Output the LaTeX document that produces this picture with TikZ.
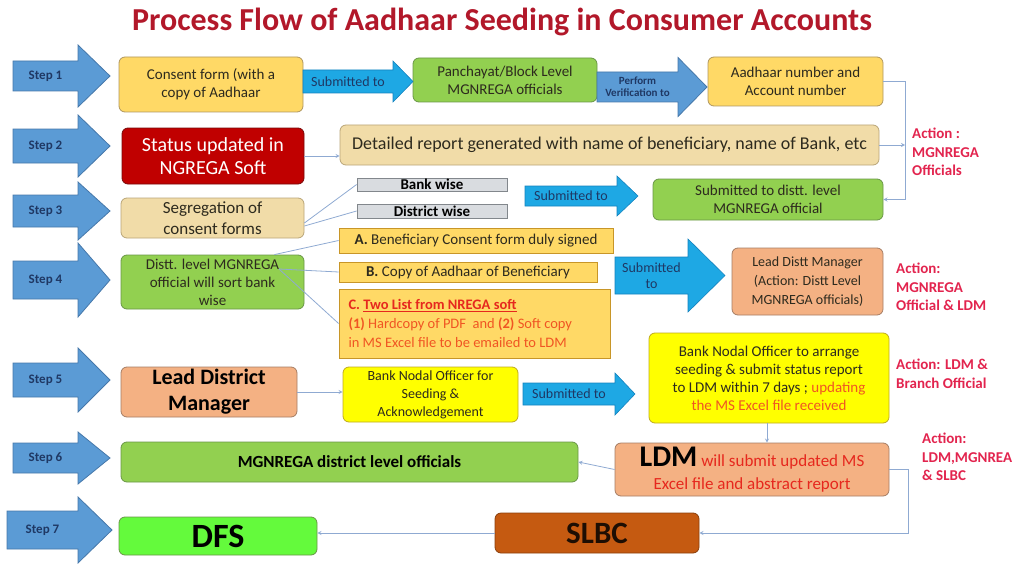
\documentclass[tikz,border=0pt]{standalone}
\usepackage{fontspec}
\setmainfont{Carlito}
\usepackage{tikz}
\usetikzlibrary{arrows,calc}
\definecolor{titlered}{RGB}{178,24,42}
\definecolor{stepblue}{RGB}{91,155,213}
\definecolor{stepline}{RGB}{70,120,170}
\definecolor{navy}{RGB}{31,56,100}
\definecolor{skyblue}{RGB}{30,168,228}
\definecolor{skyline}{RGB}{20,130,190}
\definecolor{gold}{RGB}{255,217,102}
\definecolor{goldline}{RGB}{175,150,95}
\definecolor{listline}{RGB}{200,150,40}
\definecolor{leaf}{RGB}{146,208,80}
\definecolor{leafline}{RGB}{105,150,70}
\definecolor{parch}{RGB}{241,220,168}
\definecolor{parchline}{RGB}{185,165,120}
\definecolor{status}{RGB}{192,0,0}
\definecolor{statusline}{RGB}{120,10,10}
\definecolor{salmon}{RGB}{244,177,131}
\definecolor{salmonline}{RGB}{165,125,100}
\definecolor{brightyellow}{RGB}{255,255,0}
\definecolor{yellowline}{RGB}{190,170,30}
\definecolor{graybg}{RGB}{217,220,224}
\definecolor{grayline}{RGB}{130,135,140}
\definecolor{dfsgreen}{RGB}{100,250,60}
\definecolor{slbcorange}{RGB}{197,90,17}
\definecolor{boxtext}{RGB}{45,42,30}
\definecolor{connblue}{RGB}{143,170,210}
\definecolor{actionred}{RGB}{226,36,78}
\definecolor{listred}{RGB}{230,40,30}
\definecolor{listorange}{RGB}{240,85,35}
\tikzstyle{box}=[rounded corners=6pt, inner sep=0pt, align=center, line width=0.8pt, text=boxtext, font=\fontsize{15}{18}\selectfont]
\tikzstyle{goldbox}=[box, fill=gold, draw=goldline]
\tikzstyle{greenbox}=[box, fill=leaf, draw=leafline]
\tikzstyle{parchbox}=[box, fill=parch, draw=parchline]
\tikzstyle{redbox}=[box, fill=status, draw=statusline, text=white, font=\fontsize{20}{23}\selectfont]
\tikzstyle{salmonbox}=[box, fill=salmon, draw=salmonline]
\tikzstyle{yellowbox}=[box, fill=brightyellow, draw=yellowline]
\tikzstyle{graybox}=[box, rounded corners=0pt, fill=graybg, draw=grayline, text=black, font=\fontsize{15}{18}\selectfont\bfseries]
\tikzstyle{listbox}=[box, rounded corners=0pt, fill=gold, draw=listline]
\tikzstyle{bigtext}=[text=black, font=\fontsize{22}{26}\selectfont\bfseries]
\tikzstyle{steparrow}=[fill=stepblue, draw=stepline, line width=0.8pt, text=navy, font=\fontsize{13}{15}\selectfont\bfseries]
\tikzstyle{subarrow}=[fill=skyblue, draw=skyline, line width=0.6pt, text=navy, font=\fontsize{14}{16}\selectfont]
\tikzstyle{verarrow}=[steparrow, font=\fontsize{11}{12}\selectfont\bfseries]
\tikzstyle{conn}=[draw=connblue, line width=0.8pt]
\tikzstyle{action}=[anchor=west, align=left, inner sep=0pt, text=actionred, font=\fontsize{15}{18.5}\selectfont\bfseries]
% block arrow: name, x left, x head, x tip, y, body half, head half, style, text
\newcommand{\blockarrow}[9]{
 \draw[#8] ({#2},{#5-#6}) -- ({#3},{#5-#6}) -- ({#3},{#5-#7}) -- ({#4},{#5}) -- ({#3},{#5+#7}) -- ({#3},{#5+#6}) -- ({#2},{#5+#6}) -- cycle;
 \node[#8, draw=none, fill=none, align=center, inner sep=0pt] (#1) at ({(#2+#3)/2},{#5}) {#9};
}
% box between two corners
\newcommand{\pbox}[7]{
 \node[#1, minimum width={(#5-#3)*1pt}, minimum height={(#6-#4)*1pt}] (#2) at ({(#3+#5)/2},{(#4+#6)/2}) {#7};
}

\begin{document}
\begin{tikzpicture}[x=1pt,y=-1pt]
 \useasboundingbox (0,0) rectangle (1019,567);
 \node[text=titlered, font=\fontsize{32}{34}\selectfont\bfseries] (title) at (502,22) {Process Flow of Aadhaar Seeding in Consumer Accounts};
%
 \blockarrow{step1}{13}{78}{110}{76}{15}{31}{steparrow}{Step 1}
 \blockarrow{step2}{13}{78}{110}{146}{17}{31}{steparrow}{Step 2}
 \blockarrow{step3}{13}{78}{110}{211}{16}{29}{steparrow}{Step 3}
 \blockarrow{step4}{13}{78}{110}{280}{19}{37}{steparrow}{Step 4}
 \blockarrow{step5}{13}{78}{110}{380}{17}{32}{steparrow}{Step 5}
 \blockarrow{step6}{13}{78}{110}{458}{15}{26}{steparrow}{Step 6}
 \blockarrow{step7}{7}{78}{112}{530}{19}{33}{steparrow}{Step 7}
%
 \pbox{goldbox}{consent}{119}{57}{303}{112}{Consent form (with a\\copy of Aadhaar}
 \pbox{greenbox}{panch}{413}{58}{597}{102}{Panchayat/Block Level\\MGNREGA officials}
 \pbox{goldbox}{aadhaar}{708}{57}{883}{106}{Aadhaar number and\\Account number}
 \blockarrow{sub1}{303}{393}{413}{81.5}{11.5}{20.5}{subarrow}{Submitted to}
 \blockarrow{verify}{597}{678}{707}{87}{15}{29.5}{verarrow}{Perform\\Verification to}
%
 \pbox{redbox}{status}{122}{128}{304}{184}{Status updated in\\NGREGA Soft}
 \pbox{parchbox, font=\fontsize{18}{20}\selectfont}{report}{340}{125}{879}{165}{Detailed report generated with name of beneficiary, name of Bank, etc}
%
 \pbox{parchbox, font=\fontsize{17}{21}\selectfont}{segr}{121}{198}{304}{238}{Segregation of\\consent forms}
 \pbox{graybox}{bank}{357}{178}{507}{191}{Bank wise}
 \pbox{graybox}{district}{357}{204}{507}{218}{District wise}
 \blockarrow{sub3}{525}{617}{638}{196}{10}{20}{subarrow}{Submitted to}
 \pbox{greenbox}{subdist}{653}{179}{883}{220}{Submitted to distt. level\\MGNREGA official}
%
 \pbox{greenbox}{distt}{121}{255}{304}{309}{Distt. level MGNREGA\\official will sort bank\\wise}
 \pbox{listbox}{lista}{339}{228}{613}{253}{\textbf{A.} Beneficiary Consent form duly signed}
 \pbox{listbox}{listb}{339}{262}{597}{282}{\textbf{B.} Copy of Aadhaar of Beneficiary}
 \pbox{listbox}{listc}{339}{289}{610}{358}{\parbox{252pt}{\raggedright\fontsize{14.5}{19}\selectfont
  {\color{listred}\bfseries C. \underline{Two List from NREGA soft}}\\
  {\color{listorange}\textbf{(1)} Hardcopy of PDF\ \ and \textbf{(2)} Soft copy}\\
  {\color{listorange}in MS Excel file to be emailed to LDM}}}
 \blockarrow{sub4}{615}{688}{725}{275.5}{18.5}{36.5}{subarrow}{Submitted\\to}
 \pbox{salmonbox, font=\fontsize{14}{19}\selectfont}{leaddistt}{732}{248}{883}{315}{Lead Distt Manager\\(Action: Distt Level\\MGNREGA officials)}
%
 \pbox{salmonbox, bigtext}{ldmain}{121}{367}{297}{417}{Lead District\\Manager}
 \pbox{yellowbox, font=\fontsize{14}{18}\selectfont}{nodal}{343}{367}{518}{422}{Bank Nodal Officer for\\Seeding \&\\Acknowledgement}
 \blockarrow{sub5}{523}{615}{635}{394}{11}{21}{subarrow}{Submitted to}
 \pbox{yellowbox}{arrange}{649}{333}{889}{423}{Bank Nodal Officer to arrange\\seeding \& submit status report\\to LDM within 7 days ; {\color{listorange}updating}\\{\color{listorange}the MS Excel file received}}
%
 \pbox{greenbox, bigtext, font=\fontsize{17}{20}\selectfont\bfseries}{mgnrega}{121}{442}{578}{482}{MGNREGA district level officials}
 \pbox{salmonbox, text=listred, font=\fontsize{17}{20}\selectfont}{ldm}{615}{443}{889}{496}{{\fontsize{30}{30}\selectfont\bfseries\color{black}LDM} will submit updated MS\\[3pt]Excel file and abstract report}
%
 \pbox{box, fill=dfsgreen, draw=leafline, bigtext, font=\fontsize{34}{34}\selectfont\bfseries}{dfs}{119}{517}{317}{555}{DFS}
 \pbox{box, fill=slbcorange, draw=slbcorange!70!black, bigtext, text=black!85!slbcorange, font=\fontsize{31}{31}\selectfont\bfseries}{slbc}{495}{513}{699}{553}{SLBC}
%
 \node[action] (act1) at (912,152) {Action :\\MGNREGA\\Officials};
 \node[action] (act2) at (896,287) {Action:\\MGNREGA\\Official \& LDM};
 \node[action] (act3) at (896,374) {Action: LDM \&\\Branch Official};
 \node[action] (act4) at (922,457) {Action:\\LDM,MGNREA\\\& SLBC};
%
 \coordinate (vline) at (905,100);
 \coordinate (dsrc) at (279,269);
 \draw[conn, -stealth] (status.east) -- (status.east -| report.west);
 \draw[conn, -stealth] (aadhaar.east) -- (aadhaar.east -| vline) |- (subdist.east);
 \draw[conn, -stealth] (report.east) -- (report.east -| vline);
 \draw[conn] ([yshift=-5pt]segr.east) -- (bank.west);
 \draw[conn] ([yshift=-8pt]segr.east) -- (district.west);
 \draw[conn] ([xshift=-30pt]distt.north east) -- (lista.west);
 \draw[conn] (dsrc) -- (listb.west);
 \draw[conn] (dsrc) -- (listc.west);
 \draw[conn, -stealth] (ldmain.east) -- (ldmain.east -| nodal.west);
 \draw[conn, -stealth] (arrange.south -| ldm.north) ++(15,0) coordinate (adown) -- (adown |- ldm.north);
 \draw[conn, -stealth] (ldm.west) -- (mgnrega.east);
 \draw[conn, -stealth] (ldm.east) -- ++(19,0) |- (slbc.east);
 \draw[conn, -stealth] (slbc.west) -- (slbc.west -| dfs.east);
\end{tikzpicture}
\end{document}
